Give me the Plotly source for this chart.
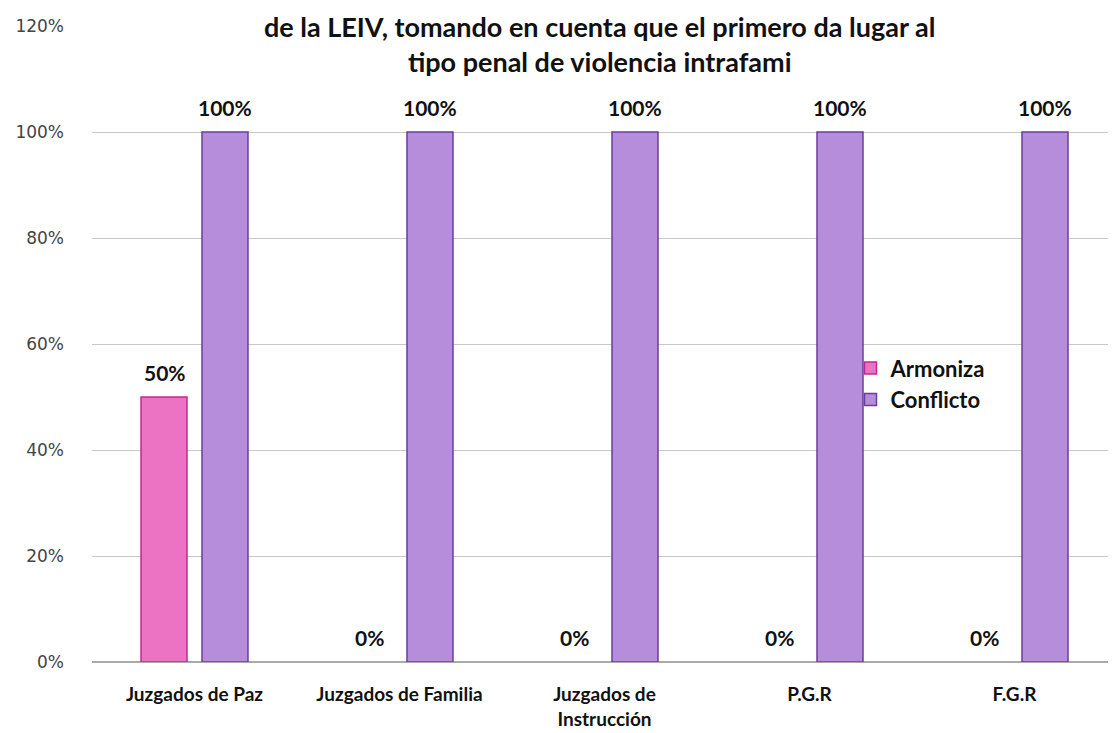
import plotly.graph_objects as go

categories = ["Juzgados de Paz", "Juzgados de Familia", "Juzgados de<br>Instrucción", "P.G.R", "F.G.R"]
armoniza = [0.50, 0.0, 0.0, 0.0, 0.0]
conflicto = [1.0, 1.0, 1.0, 1.0, 1.0]
tick_vals = [0, 0.2, 0.4, 0.6, 0.8, 1.0, 1.2]
tick_text = ["0%", "20%", "40%", "60%", "80%", "100%", "120%"]
title_text = "de la LEIV, tomando en cuenta que el primero da lugar al<br>tipo penal de violencia intrafami"

def pct(v):
    return f"{round(v*100)}%"

def outline_widths(vals):
    return [1.5 if v > 0 else 0 for v in vals]

fig = go.Figure()
fig.add_trace(go.Bar(
    name="Armoniza", x=categories, y=armoniza,
    marker=dict(color="#ec72c3", line=dict(color="#c12a92", width=outline_widths(armoniza))),
))
fig.add_trace(go.Bar(
    name="Conflicto", x=categories, y=conflicto,
    marker=dict(color="#b68ddb", line=dict(color="#6b3d9c", width=outline_widths(conflicto))),
))

label_font = dict(family="Lato", size=21, color="#111111", weight="bold")
annotations = []
for series, shift in ((armoniza, -30), (conflicto, 30)):
    for cat, val in zip(categories, series):
        annotations.append(dict(
            x=cat, y=val, xref="x", yref="y", text=pct(val), showarrow=False,
            xshift=shift, yshift=25, font=label_font,
        ))
annotations.append(dict(
    text=title_text, xref="paper", yref="paper", x=0.495, y=1.0,
    xanchor="center", yanchor="top", showarrow=False, yshift=18,
    font=dict(family="Lato", size=27, color="#111111", weight="bold"),
))

fig.update_layout(
    width=1116, height=733,
    paper_bgcolor="white", plot_bgcolor="white",
    margin=dict(l=84, r=7, t=18, b=79, autoexpand=False),
    barmode="group", bargap=0.405, bargroupgap=0.246,
    showlegend=True,
    legend=dict(x=0.74, y=0.495, xanchor="left", yanchor="top",
                font=dict(family="Lato", size=22, color="#111111", weight="bold"),
                bgcolor="rgba(0,0,0,0)", itemwidth=30, tracegroupgap=0),
    annotations=annotations,
    xaxis=dict(tickfont=dict(family="Lato", size=19, color="#111111", weight="bold"),
               showline=False, ticks="", showgrid=False, automargin=False,
               ticklabelstandoff=19),
    yaxis=dict(range=[0, 1.2], tickvals=tick_vals, ticktext=tick_text,
               tickfont=dict(family="DejaVu Sans", size=17, color="#444444"),
               showgrid=True, gridcolor="#c8c8c8", gridwidth=1,
               zeroline=True, zerolinecolor="#aaaaaa", zerolinewidth=1.5,
               ticks="", ticklabelstandoff=27, showline=False, automargin=False),
)

fig.write_html("out.html")
